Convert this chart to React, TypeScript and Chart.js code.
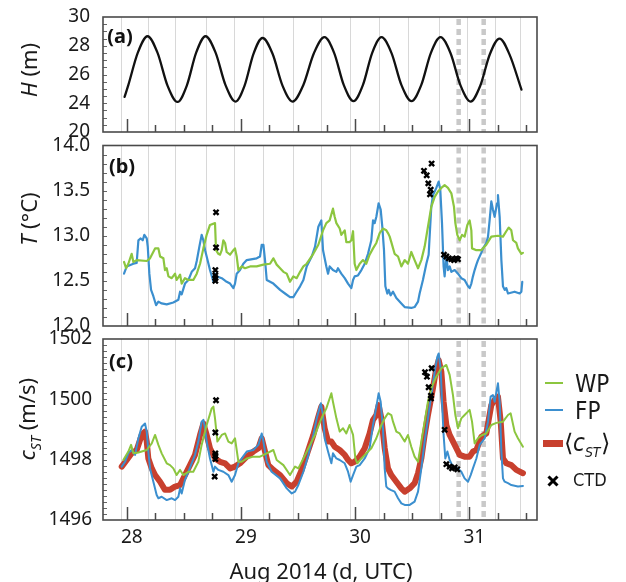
import React, { useEffect, useRef } from 'react';
import { Chart, registerables } from 'chart.js';

Chart.register(...registerables);

// ---------- axes ----------
const X_MIN = 27.792;
const X_MAX = 31.593;
const DAY_TICKS = [28, 29, 30, 31];
const GRID_DAYS = [27.947, 28.184, 28.423, 28.694, 28.94, 29.196, 29.459, 29.704, 29.958, 30.209, 30.463, 30.732, 30.98, 31.228, 31.441];
const DOT_DAYS = [30.907, 31.126];

// ---------- (a) tide height H ----------
const H_T = [27.981, 28.013, 28.097, 28.182, 28.269, 28.357, 28.445, 28.526, 28.608, 28.69, 28.778, 28.865, 28.953, 29.032, 29.11, 29.189, 29.277, 29.364, 29.452, 29.545, 29.639, 29.732, 29.817, 29.901, 29.986, 30.068, 30.149, 30.231, 30.319, 30.406, 30.494, 30.579, 30.663, 30.748, 30.836, 30.923, 31.011, 31.096, 31.18, 31.265, 31.352, 31.457];
const H_V = [24.45, 25.24, 27.52, 28.66, 27.52, 25.23, 24.09, 25.23, 27.52, 28.66, 27.52, 25.26, 24.12, 25.23, 27.44, 28.54, 27.44, 25.23, 24.12, 25.24, 27.48, 28.6, 27.49, 25.26, 24.15, 25.26, 27.49, 28.6, 27.49, 25.26, 24.15, 25.26, 27.49, 28.6, 27.48, 25.24, 24.12, 25.22, 27.41, 28.5, 27.4, 24.95];

// ---------- (b) temperature ----------
const T_WP_T = [27.976, 27.994, 28.014, 28.043, 28.058, 28.087, 28.175, 28.204, 28.248, 28.277, 28.292, 28.321, 28.335, 28.35, 28.365, 28.394, 28.423, 28.437, 28.467, 28.481, 28.51, 28.54, 28.583, 28.613, 28.642, 28.671, 28.7, 28.729, 28.773, 28.782, 28.802, 28.817, 28.832, 28.846, 28.861, 28.875, 28.905, 28.934, 28.948, 28.963, 28.978, 29.007, 29.036, 29.08, 29.138, 29.197, 29.255, 29.284, 29.313, 29.343, 29.372, 29.401, 29.43, 29.459, 29.488, 29.518, 29.547, 29.576, 29.634, 29.678, 29.719, 29.748, 29.777, 29.806, 29.821, 29.836, 29.865, 29.879, 29.909, 29.923, 29.952, 29.967, 29.982, 29.996, 30.011, 30.04, 30.069, 30.098, 30.127, 30.157, 30.186, 30.215, 30.244, 30.273, 30.288, 30.303, 30.317, 30.346, 30.376, 30.405, 30.434, 30.463, 30.492, 30.521, 30.551, 30.58, 30.609, 30.638, 30.667, 30.697, 30.726, 30.755, 30.784, 30.813, 30.843, 30.866, 30.878, 30.895, 30.916, 30.936, 30.959, 30.983, 31.003, 31.018, 31.024, 31.062, 31.105, 31.149, 31.193, 31.251, 31.295, 31.324, 31.345, 31.368, 31.383, 31.412, 31.426, 31.456, 31.47];
const T_WP_V = [12.71, 12.64, 12.69, 12.8, 12.71, 12.73, 12.72, 12.75, 12.86, 12.86, 12.77, 12.75, 12.62, 12.64, 12.55, 12.53, 12.58, 12.51, 12.57, 12.47, 12.53, 12.51, 12.51, 12.58, 12.69, 12.86, 13.01, 13.12, 13.14, 12.84, 12.8, 12.79, 12.84, 12.95, 12.92, 12.82, 12.79, 12.84, 12.86, 12.77, 12.62, 12.66, 12.64, 12.66, 12.66, 12.68, 12.69, 12.75, 12.68, 12.64, 12.6, 12.58, 12.49, 12.55, 12.53, 12.6, 12.66, 12.69, 12.8, 12.9, 13.06, 13.14, 13.17, 13.3, 13.21, 13.14, 13.08, 13.01, 13.06, 12.93, 12.93, 12.95, 13.05, 12.69, 12.62, 12.69, 12.73, 12.69, 12.79, 12.86, 12.92, 13.03, 13.08, 13.06, 13.03, 12.99, 12.93, 12.8, 12.77, 12.66, 12.73, 12.69, 12.82, 12.73, 12.64, 12.73, 12.88, 13.1, 13.32, 13.43, 13.49, 13.53, 13.56, 13.53, 13.47, 13.32, 13.14, 13.01, 12.95, 13.01, 12.99, 13.12, 13.17, 13.06, 12.86, 12.84, 12.84, 12.9, 12.99, 13.0, 12.99, 13.05, 13.09, 13.06, 12.95, 12.92, 12.86, 12.8, 12.81];

const T_FP_T = [27.976, 28.0, 28.058, 28.087, 28.102, 28.122, 28.14, 28.154, 28.175, 28.184, 28.198, 28.213, 28.233, 28.257, 28.277, 28.306, 28.35, 28.408, 28.452, 28.467, 28.481, 28.51, 28.54, 28.569, 28.598, 28.613, 28.636, 28.656, 28.671, 28.686, 28.7, 28.729, 28.759, 28.773, 28.788, 28.832, 28.875, 28.905, 28.934, 28.948, 28.963, 28.992, 29.021, 29.051, 29.138, 29.167, 29.182, 29.197, 29.211, 29.226, 29.255, 29.284, 29.343, 29.386, 29.43, 29.459, 29.488, 29.518, 29.547, 29.576, 29.62, 29.649, 29.678, 29.704, 29.719, 29.748, 29.763, 29.777, 29.806, 29.836, 29.85, 29.879, 29.909, 29.938, 29.967, 29.982, 29.996, 30.025, 30.055, 30.084, 30.113, 30.142, 30.157, 30.171, 30.186, 30.206, 30.224, 30.238, 30.253, 30.265, 30.282, 30.294, 30.311, 30.332, 30.361, 30.405, 30.434, 30.492, 30.521, 30.551, 30.565, 30.594, 30.624, 30.644, 30.667, 30.682, 30.711, 30.732, 30.746, 30.761, 30.775, 30.784, 30.799, 30.813, 30.828, 30.843, 30.872, 30.901, 30.93, 30.959, 30.989, 31.003, 31.018, 31.032, 31.047, 31.062, 31.076, 31.105, 31.12, 31.149, 31.164, 31.178, 31.193, 31.207, 31.222, 31.243, 31.251, 31.266, 31.281, 31.295, 31.31, 31.324, 31.339, 31.397, 31.441, 31.456, 31.464];
const T_FP_V = [12.58, 12.66, 12.69, 12.7, 12.95, 12.97, 12.95, 13.01, 12.97, 12.88, 12.58, 12.4, 12.33, 12.23, 12.27, 12.25, 12.24, 12.26, 12.29, 12.38, 12.35, 12.47, 12.51, 12.6, 12.64, 12.72, 12.88, 13.01, 12.95, 12.84, 12.77, 12.62, 12.49, 12.58, 12.55, 12.53, 12.49, 12.47, 12.42, 12.47, 12.58, 12.62, 12.69, 12.73, 12.75, 12.77, 12.9, 12.9, 12.73, 12.51, 12.49, 12.47, 12.4, 12.36, 12.32, 12.32, 12.38, 12.44, 12.51, 12.66, 12.77, 12.88, 13.1, 13.17, 12.84, 12.66, 12.58, 12.66, 12.62, 12.6, 12.64, 12.58, 12.53, 12.47, 12.42, 12.51, 12.55, 12.56, 12.62, 12.69, 12.8, 12.95, 13.17, 13.14, 13.21, 13.36, 13.29, 13.1, 12.84, 12.44, 12.36, 12.4, 12.34, 12.38, 12.31, 12.25, 12.21, 12.2, 12.21, 12.27, 12.36, 12.51, 12.69, 12.79, 13.32, 13.45, 13.53, 13.6, 13.51, 13.14, 12.66, 12.55, 12.77, 12.62, 12.66, 12.6, 12.62, 12.58, 12.53, 12.51, 12.44, 12.42, 12.47, 12.55, 12.62, 12.68, 12.73, 12.81, 12.86, 12.92, 12.99, 13.17, 13.38, 13.29, 13.21, 13.36, 13.45, 13.21, 12.73, 12.44, 12.4, 12.42, 12.36, 12.38, 12.36, 12.38, 12.49];

const T_CTD_T = [28.782, 28.782, 28.776, 28.776, 28.776, 28.776, 30.67, 30.603, 30.627, 30.641, 30.662, 30.656, 30.778, 30.799, 30.82, 30.843, 30.866, 30.886, 30.901];
const T_CTD_V = [13.26, 12.87, 12.62, 12.56, 12.53, 12.5, 13.8, 13.72, 13.67, 13.58, 13.51, 13.46, 12.79, 12.77, 12.75, 12.74, 12.73, 12.75, 12.74];

// ---------- (c) sound speed ----------
const C_WP_T = [27.97, 28.014, 28.038, 28.058, 28.102, 28.175, 28.219, 28.248, 28.277, 28.306, 28.35, 28.379, 28.408, 28.437, 28.467, 28.496, 28.54, 28.583, 28.627, 28.656, 28.7, 28.744, 28.759, 28.773, 28.794, 28.832, 28.861, 28.89, 28.919, 28.948, 28.978, 29.007, 29.051, 29.109, 29.167, 29.226, 29.284, 29.313, 29.372, 29.43, 29.474, 29.503, 29.547, 29.605, 29.649, 29.693, 29.719, 29.748, 29.792, 29.806, 29.836, 29.865, 29.894, 29.923, 29.952, 29.982, 30.002, 30.02, 30.055, 30.098, 30.142, 30.186, 30.23, 30.259, 30.288, 30.317, 30.332, 30.361, 30.39, 30.434, 30.463, 30.492, 30.521, 30.551, 30.58, 30.609, 30.638, 30.667, 30.711, 30.755, 30.799, 30.828, 30.857, 30.878, 30.901, 30.93, 30.959, 31.003, 31.024, 31.047, 31.076, 31.105, 31.149, 31.193, 31.237, 31.295, 31.339, 31.362, 31.397, 31.426, 31.47];
const C_WP_V = [1497.99, 1498.27, 1498.49, 1498.21, 1498.24, 1498.32, 1498.54, 1498.82, 1498.49, 1498.21, 1497.88, 1497.82, 1497.71, 1497.49, 1497.66, 1497.49, 1497.6, 1497.6, 1497.93, 1498.49, 1499.15, 1499.7, 1499.76, 1499.37, 1498.6, 1498.82, 1498.87, 1498.6, 1498.54, 1498.71, 1497.93, 1497.93, 1498.04, 1498.1, 1498.1, 1498.21, 1498.32, 1497.99, 1497.82, 1497.49, 1497.77, 1497.71, 1498.04, 1498.49, 1498.82, 1499.26, 1499.48, 1499.7, 1500.2, 1499.92, 1499.37, 1498.93, 1499.04, 1498.87, 1499.15, 1498.82, 1498.04, 1497.88, 1498.04, 1498.21, 1498.38, 1498.71, 1499.15, 1499.37, 1499.54, 1499.48, 1499.26, 1498.93, 1498.87, 1498.6, 1498.82, 1498.43, 1498.1, 1497.93, 1498.6, 1499.26, 1499.92, 1500.37, 1500.75, 1501.03, 1501.14, 1500.81, 1500.14, 1499.48, 1499.04, 1499.37, 1499.48, 1499.65, 1499.26, 1498.54, 1498.71, 1498.8, 1498.87, 1499.15, 1499.22, 1499.26, 1499.48, 1499.54, 1498.93, 1498.71, 1498.43];

const C_FP_T = [27.956, 27.985, 28.014, 28.043, 28.073, 28.102, 28.131, 28.16, 28.175, 28.189, 28.204, 28.233, 28.262, 28.277, 28.306, 28.35, 28.394, 28.423, 28.452, 28.467, 28.481, 28.51, 28.54, 28.569, 28.598, 28.627, 28.656, 28.671, 28.686, 28.7, 28.729, 28.759, 28.773, 28.802, 28.846, 28.89, 28.919, 28.948, 28.978, 29.007, 29.051, 29.109, 29.153, 29.182, 29.197, 29.226, 29.269, 29.343, 29.401, 29.445, 29.474, 29.503, 29.547, 29.591, 29.634, 29.664, 29.7, 29.719, 29.733, 29.763, 29.792, 29.806, 29.836, 29.865, 29.909, 29.938, 29.961, 29.982, 30.011, 30.04, 30.084, 30.127, 30.157, 30.186, 30.206, 30.224, 30.244, 30.259, 30.273, 30.288, 30.311, 30.346, 30.376, 30.405, 30.434, 30.478, 30.521, 30.551, 30.58, 30.609, 30.638, 30.667, 30.697, 30.72, 30.732, 30.749, 30.761, 30.775, 30.79, 30.808, 30.828, 30.857, 30.901, 30.93, 30.959, 30.989, 31.012, 31.032, 31.062, 31.091, 31.135, 31.164, 31.187, 31.207, 31.222, 31.251, 31.266, 31.281, 31.295, 31.31, 31.339, 31.368, 31.426, 31.47];
const C_FP_V = [1497.77, 1497.93, 1498.21, 1498.32, 1498.16, 1498.71, 1499.09, 1499.2, 1498.93, 1498.27, 1497.71, 1497.27, 1496.83, 1496.72, 1496.77, 1496.66, 1496.72, 1496.66, 1496.77, 1497.05, 1496.88, 1497.33, 1497.6, 1497.88, 1498.16, 1498.6, 1499.26, 1499.32, 1499.04, 1498.6, 1498.04, 1497.6, 1497.77, 1497.66, 1497.6, 1497.49, 1497.27, 1497.49, 1497.88, 1498.04, 1498.27, 1498.32, 1498.49, 1498.87, 1498.6, 1497.93, 1497.6, 1497.38, 1497.05, 1496.88, 1496.94, 1497.16, 1497.6, 1498.16, 1498.82, 1499.37, 1499.87, 1499.48, 1498.71, 1498.27, 1497.88, 1498.21, 1498.04, 1497.99, 1497.88, 1497.6, 1497.27, 1497.49, 1497.77, 1497.82, 1498.04, 1498.38, 1499.15, 1499.76, 1500.2, 1499.92, 1499.04, 1497.71, 1497.11, 1497.05, 1497.0, 1496.94, 1496.72, 1496.55, 1496.5, 1496.5, 1496.61, 1496.94, 1497.71, 1498.6, 1499.37, 1500.14, 1500.92, 1501.41, 1501.52, 1501.03, 1499.92, 1498.82, 1498.04, 1498.27, 1497.99, 1497.77, 1497.71, 1497.6, 1497.38, 1497.27, 1497.49, 1497.71, 1498.04, 1498.49, 1498.71, 1499.26, 1500.09, 1500.14, 1499.92, 1500.53, 1499.92, 1498.27, 1497.38, 1497.27, 1497.22, 1497.16, 1497.11, 1497.13];

const C_MEAN_T = [27.956, 28.0, 28.043, 28.087, 28.131, 28.16, 28.175, 28.189, 28.219, 28.248, 28.292, 28.335, 28.379, 28.423, 28.467, 28.51, 28.554, 28.598, 28.642, 28.671, 28.7, 28.729, 28.773, 28.817, 28.861, 28.905, 28.948, 28.992, 29.051, 29.109, 29.153, 29.182, 29.211, 29.24, 29.284, 29.343, 29.401, 29.445, 29.488, 29.532, 29.576, 29.634, 29.678, 29.704, 29.733, 29.763, 29.792, 29.821, 29.865, 29.909, 29.938, 29.967, 29.996, 30.04, 30.084, 30.127, 30.157, 30.186, 30.206, 30.23, 30.259, 30.288, 30.317, 30.361, 30.405, 30.434, 30.478, 30.521, 30.551, 30.58, 30.609, 30.638, 30.682, 30.711, 30.732, 30.755, 30.775, 30.799, 30.828, 30.872, 30.916, 30.959, 31.003, 31.032, 31.062, 31.105, 31.149, 31.193, 31.222, 31.251, 31.275, 31.295, 31.324, 31.368, 31.412, 31.47];
const C_MEAN_V = [1497.77, 1497.99, 1498.21, 1498.32, 1498.82, 1498.93, 1498.6, 1498.04, 1497.71, 1497.49, 1497.27, 1497.0, 1497.0, 1497.11, 1497.16, 1497.49, 1497.82, 1498.16, 1498.82, 1499.2, 1498.82, 1498.38, 1498.04, 1497.93, 1497.88, 1497.71, 1497.77, 1497.88, 1498.1, 1498.27, 1498.38, 1498.71, 1498.27, 1497.82, 1497.66, 1497.49, 1497.22, 1497.11, 1497.27, 1497.66, 1498.16, 1498.82, 1499.43, 1499.76, 1499.04, 1498.6, 1498.6, 1498.43, 1498.32, 1498.16, 1497.99, 1497.88, 1497.93, 1498.1, 1498.38, 1498.87, 1499.32, 1499.48, 1499.81, 1499.37, 1498.38, 1497.71, 1497.49, 1497.27, 1497.05, 1496.94, 1497.05, 1497.22, 1497.55, 1498.04, 1498.82, 1499.48, 1500.37, 1501.03, 1501.3, 1500.92, 1499.92, 1499.15, 1498.82, 1498.49, 1498.16, 1498.1, 1498.1, 1498.27, 1498.32, 1498.76, 1498.87, 1499.81, 1499.98, 1500.09, 1499.26, 1498.04, 1497.88, 1497.82, 1497.66, 1497.55];

const C_CTD_T = [28.782, 28.776, 28.776, 28.776, 28.776, 28.77, 30.612, 30.629, 30.67, 30.644, 30.664, 30.664, 30.784, 30.799, 30.828, 30.849, 30.872, 30.895];
const C_CTD_V = [1499.97, 1498.9, 1498.21, 1498.13, 1498.02, 1497.44, 1500.9, 1500.75, 1501.03, 1500.4, 1500.12, 1500.03, 1498.99, 1497.85, 1497.77, 1497.71, 1497.74, 1497.68];

// ---------- style ----------
const GREEN = '#8cc63f';
const BLUE = '#3b8fcf';
const RED = '#c8402e';
const FONT = '"Noto Sans", "Open Sans", sans-serif';
const NARROW = '"Liberation Sans Narrow", "DejaVu Sans Condensed", "Noto Sans", sans-serif';
const TEXT = '#1a1a1a';
const PAD = 32;

function pts(t: number[], v: number[]) {
  return t.map((x, i) => ({ x, y: v[i] }));
}

const decor = {
  id: 'decor',
  beforeDatasetsDraw(chart: any) {
    const { ctx, chartArea: a } = chart;
    const x = chart.scales.x;
    ctx.save();
    ctx.beginPath();
    ctx.rect(a.left, a.top, a.right - a.left, a.bottom - a.top);
    ctx.clip();
    ctx.strokeStyle = '#d8d8d8';
    ctx.lineWidth = 1;
    GRID_DAYS.forEach((d) => {
      const px = Math.round(x.getPixelForValue(d)) + 0.5;
      ctx.beginPath();
      ctx.moveTo(px, a.top);
      ctx.lineTo(px, a.bottom);
      ctx.stroke();
    });
    ctx.strokeStyle = '#c9c9c9';
    ctx.lineWidth = 4.5;
    ctx.setLineDash([6, 4]);
    DOT_DAYS.forEach((d) => {
      const px = x.getPixelForValue(d);
      ctx.beginPath();
      ctx.moveTo(px, a.top + 2);
      ctx.lineTo(px, a.bottom);
      ctx.stroke();
    });
    ctx.restore();
  },
  afterDraw(chart: any, _args: any, opts: any) {
    const { ctx, chartArea: a } = chart;
    const x = chart.scales.x;
    const y = chart.scales.y;
    ctx.save();
    ctx.strokeStyle = '#4a4a4a';
    ctx.lineWidth = 1.5;
    ctx.beginPath();
    for (let k = 0; k <= 14; k++) {
      const d = 28 + k * 0.25;
      const px = Math.round(x.getPixelForValue(d)) + 0.5;
      const len = k % 4 === 0 ? 13 : 7;
      ctx.moveTo(px, a.bottom);
      ctx.lineTo(px, a.bottom - len);
    }
    ctx.stroke();
    ctx.lineWidth = 1;
    ctx.strokeStyle = '#666';
    ctx.beginPath();
    const step = opts.yMinor;
    const n = Math.round((y.max - y.min) / step);
    for (let k = 1; k < n; k++) {
      const py = Math.round(y.getPixelForValue(y.min + k * step)) + 0.5;
      ctx.moveTo(a.left, py);
      ctx.lineTo(a.left + 4, py);
    }
    ctx.stroke();
    ctx.strokeStyle = '#4a4a4a';
    ctx.lineWidth = 1.6;
    ctx.strokeRect(a.left, a.top, a.right - a.left, a.bottom - a.top);
    ctx.restore();
  },
};

function options(p: any) {
  return {
    responsive: false,
    animation: false,
    events: [],
    layout: { padding: { left: 0, right: 89, top: p.padTop, bottom: p.padBottom } },
    plugins: {
      legend: { display: false },
      tooltip: { enabled: false },
      decor: { yMinor: p.yMinor },
    },
    elements: { line: { borderJoinStyle: 'round', borderCapStyle: 'round' } },
    scales: {
      x: {
        type: 'linear',
        min: X_MIN,
        max: X_MAX,
        display: p.showX,
        grid: { display: false, drawTicks: false },
        border: { display: false },
        ticks: {
          font: { family: FONT, size: 19 },
          color: TEXT,
          padding: 6,
          labelOffset: 5,
          callback: (v: number) => String(v),
        },
        afterBuildTicks: (s: any) => {
          s.ticks = DAY_TICKS.map((v) => ({ value: v }));
        },
        afterFit: (s: any) => {
          s.height = p.showX ? 62 : 0;
        },
      },
      y: {
        type: 'linear',
        min: p.yMin,
        max: p.yMax,
        grid: { display: false, drawTicks: false },
        border: { display: false },
        ticks: {
          stepSize: p.yStep,
          font: { family: FONT, size: 19 },
          color: TEXT,
          padding: p.yPad,
          callback: p.yFmt,
        },
        afterFit: (s: any) => {
          s.width = 103;
        },
      },
    },
  };
}

function lineSet(t: number[], v: number[], color: string, width: number, order: number, smooth = false) {
  return {
    data: pts(t, v),
    borderColor: color,
    backgroundColor: color,
    borderWidth: width,
    pointRadius: 0,
    fill: false,
    order,
    tension: 0,
    cubicInterpolationMode: smooth ? 'monotone' : 'default',
  };
}

function ctdSet(t: number[], v: number[]) {
  return {
    data: pts(t, v),
    showLine: false,
    pointStyle: 'crossRot',
    pointRadius: 3.6,
    borderColor: '#000',
    backgroundColor: '#000',
    borderWidth: 2.4,
    order: 0,
  };
}

const abs = (s: any) => ({ position: 'absolute', ...s });

function RotTitle({ cx, cy, children }: any) {
  return (
    <div
      style={abs({
        left: cx,
        top: cy,
        transform: 'translate(-50%, -50%) rotate(-90deg)',
        whiteSpace: 'nowrap',
        fontFamily: FONT,
        fontSize: 22,
        lineHeight: 1,
        color: TEXT,
      })}
    >
      {children}
    </div>
  );
}

function PanelTag({ cx, cy, text }: any) {
  return (
    <div
      style={abs({
        left: cx,
        top: cy,
        transform: 'translate(-50%, -50%)',
        fontFamily: FONT,
        fontWeight: 700,
        fontSize: 20,
        lineHeight: 1,
        color: '#111',
      })}
    >
      {text}
    </div>
  );
}

// chart areas: a 17..132, b 145.5..326, c 339..520
export default function App() {
  const refA = useRef<HTMLCanvasElement>(null);
  const refB = useRef<HTMLCanvasElement>(null);
  const refC = useRef<HTMLCanvasElement>(null);

  useEffect(() => {
    const a = new Chart(refA.current as HTMLCanvasElement, {
      type: 'line',
      data: { datasets: [lineSet(H_T, H_V, '#111111', 2.3, 1, true)] },
      options: options({
        padTop: PAD, padBottom: PAD, yMin: 22, yMax: 30, yStep: 2, yMinor: 0.5, yPad: 13, showX: false,
        yFmt: (v: number) => (v === 22 ? '20' : String(v)),
      }),
      plugins: [decor],
    } as any);
    const b = new Chart(refB.current as HTMLCanvasElement, {
      type: 'line',
      data: {
        datasets: [
          ctdSet(T_CTD_T, T_CTD_V),
          lineSet(T_WP_T, T_WP_V, GREEN, 2.2, 1),
          lineSet(T_FP_T, T_FP_V, BLUE, 2.2, 2),
        ],
      },
      options: options({
        padTop: PAD + 0.5, padBottom: PAD, yMin: 12, yMax: 14, yStep: 0.5, yMinor: 0.1, yPad: 13, showX: false,
        yFmt: (v: number) => v.toFixed(1),
      }),
      plugins: [decor],
    } as any);
    const c = new Chart(refC.current as HTMLCanvasElement, {
      type: 'line',
      data: {
        datasets: [
          ctdSet(C_CTD_T, C_CTD_V),
          lineSet(C_WP_T, C_WP_V, GREEN, 2, 1),
          lineSet(C_FP_T, C_FP_V, BLUE, 2, 2),
          lineSet(C_MEAN_T, C_MEAN_V, RED, 6, 3),
        ],
      },
      options: options({
        padTop: PAD, padBottom: 0, yMin: 1496, yMax: 1502, yStep: 2, yMinor: 0.2, yPad: 11, showX: true,
        yFmt: (v: number) => String(v),
      }),
      plugins: [decor],
    } as any);
    return () => {
      a.destroy();
      b.destroy();
      c.destroy();
    };
  }, []);

  return (
    <div style={abs({ left: 0, top: 0, width: 626, height: 582, background: '#fff', overflow: 'hidden' })}>
      <canvas ref={refA} width={626} height={115 + 2 * PAD} style={abs({ left: 0, top: 17 - PAD })} />
      <canvas ref={refB} width={626} height={181 + 2 * PAD} style={abs({ left: 0, top: 145 - PAD })} />
      <canvas ref={refC} width={626} height={181 + PAD + 62} style={abs({ left: 0, top: 339 - PAD })} />

      <RotTitle cx={28} cy={70}>
        <i>H</i> (m)
      </RotTitle>
      <RotTitle cx={28} cy={219}>
        <i>T</i> (°C)
      </RotTitle>
      <RotTitle cx={29} cy={419}>
        <i>c</i>
        <sub style={{ fontSize: 14, fontStyle: 'italic' }}>ST</sub> (m/s)
      </RotTitle>

      <PanelTag cx={120} cy={36} text="(a)" />
      <PanelTag cx={122} cy={166} text="(b)" />
      <PanelTag cx={121} cy={361} text="(c)" />

      <div
        style={abs({
          left: 321,
          top: 570,
          transform: 'translate(-50%, -50%)',
          whiteSpace: 'nowrap',
          fontFamily: FONT,
          fontSize: 22,
          lineHeight: 1,
          color: TEXT,
        })}
      >
        Aug 2014 (d, UTC)
      </div>

      {/* legend */}
      <div style={abs({ left: 545, top: 382, width: 18, height: 2, background: GREEN })} />
      <div style={abs({ left: 575, top: 384, transform: 'translateY(-50%)', fontFamily: NARROW, fontSize: 24, lineHeight: 1, color: TEXT })}>WP</div>
      <div style={abs({ left: 545, top: 409, width: 18, height: 2, background: BLUE })} />
      <div style={abs({ left: 575, top: 411, transform: 'translateY(-50%)', fontFamily: NARROW, fontSize: 24, lineHeight: 1, color: TEXT })}>FP</div>
      <div style={abs({ left: 543, top: 440, width: 20, height: 7, background: RED })} />
      <div style={abs({ left: 564, top: 445, transform: 'translateY(-50%)', fontFamily: NARROW, fontSize: 24, lineHeight: 1, color: TEXT, whiteSpace: 'nowrap' })}>
        <span style={{ fontFamily: '"DejaVu Sans", sans-serif', fontWeight: 300 }}>⟨</span>
        <i>c</i>
        <sub style={{ fontSize: 14, fontStyle: 'italic' }}>ST</sub>
        <span style={{ fontFamily: '"DejaVu Sans", sans-serif', fontWeight: 300 }}>⟩</span>
      </div>
      <svg width={14} height={14} style={abs({ left: 546, top: 474 })}>
        <line x1={2.5} y1={2.5} x2={11.5} y2={11.5} stroke="#000" strokeWidth={3} />
        <line x1={11.5} y1={2.5} x2={2.5} y2={11.5} stroke="#000" strokeWidth={3} />
      </svg>
      <div style={abs({ left: 573, top: 480, transform: 'translateY(-50%)', fontFamily: NARROW, fontSize: 18, lineHeight: 1, color: TEXT })}>CTD</div>
    </div>
  );
}
